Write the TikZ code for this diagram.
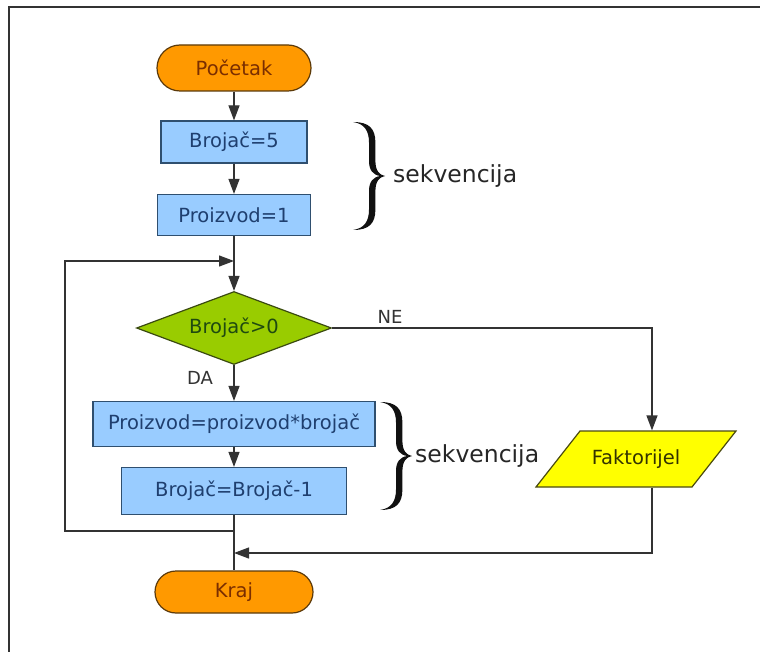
\documentclass[tikz,border=0pt]{standalone}
\usepackage{fontspec}
\setmainfont{DejaVu Sans}
\usetikzlibrary{shapes.geometric,shapes.misc,arrows.meta}
\definecolor{orfill}{HTML}{FF9900}
\definecolor{orline}{HTML}{5C3A0A}
\definecolor{ortext}{HTML}{7A2E00}
\definecolor{blfill}{HTML}{99CCFF}
\definecolor{blline}{HTML}{2F4F6F}
\definecolor{bltext}{HTML}{1F3F6F}
\definecolor{grfill}{HTML}{99CC00}
\definecolor{grline}{HTML}{3A4A10}
\definecolor{grtext}{HTML}{1F4A10}
\definecolor{yefill}{HTML}{FFFF00}
\definecolor{yeline}{HTML}{4A4A10}
\definecolor{yetext}{HTML}{333300}
\definecolor{lncol}{HTML}{333333}
\definecolor{bracecol}{HTML}{111111}
\newcommand{\mybrace}[4]{%
\begin{scope}[shift={(#1pt,-#2pt)},x=#3pt,y=-#4pt]
\fill[bracecol] (0,0) .. controls (0.5,0) and (0.7,0.06) .. (0.7,0.19)
 -- (0.7,0.36) .. controls (0.7,0.45) and (0.82,0.49) .. (1,0.5)
 .. controls (0.82,0.51) and (0.7,0.55) .. (0.7,0.64)
 -- (0.7,0.81) .. controls (0.7,0.94) and (0.5,1) .. (0,1)
 .. controls (0.35,0.985) and (0.5,0.92) .. (0.5,0.81)
 -- (0.5,0.64) .. controls (0.5,0.555) and (0.62,0.51) .. (0.85,0.5)
 .. controls (0.62,0.49) and (0.5,0.445) .. (0.5,0.36)
 -- (0.5,0.19) .. controls (0.5,0.08) and (0.35,0.015) .. (0,0) -- cycle;
\end{scope}}
\tikzset{
 base/.style={line width=1.2pt, inner sep=0pt, font=\fontsize{19.5}{22}\selectfont},
 term/.style={base, rounded rectangle, fill=orfill, draw=orline, text=ortext},
 proc/.style={base, rectangle, fill=blfill, draw=blline, text=bltext},
 dec/.style={base, diamond, shape aspect=2.67, fill=grfill, draw=grline, text=grtext},
 iotext/.style={base, rectangle, text=yetext},
 iobox/.style={line width=1.2pt, fill=yefill, draw=yeline},
 arr/.style={draw=lncol, line width=1.2pt, -{Triangle[length=15pt 0,width=11pt 0]}},
 ln/.style={draw=lncol, line width=1.2pt},
 lbl/.style={font=\fontsize{18}{20}\selectfont, text=lncol, inner sep=0pt},
 seq/.style={font=\fontsize{23.5}{26}\selectfont, text=black!85, inner sep=0pt, anchor=west},
}
\begin{document}
\begin{tikzpicture}[x=1pt,y=-1pt]
\useasboundingbox (0,0) rectangle (760,652);
\fill[white] (0,0) rectangle (760,652);
\draw[line width=2pt, lncol] (9,652) -- (9,7) -- (760,7);

\node[term, minimum width=154pt, minimum height=46pt] (start) at (234,68) {Početak};
\node[proc, minimum width=146pt, minimum height=42pt] (b5) at (234,142) {Brojač=5};
\node[proc, minimum width=153pt, minimum height=41pt] (p1) at (234,215) {Proizvod=1};
\node[dec, minimum width=195pt, minimum height=73pt] (dia) at (234,328) {Brojač>0};
\node[proc, minimum width=282pt, minimum height=45pt] (pp) at (234,424) {Proizvod=proizvod*brojač};
\node[proc, minimum width=225pt, minimum height=47pt] (bb) at (234,491) {Brojač=Brojač-1};
\filldraw[iobox] (536,487) -- (580,431) -- (736,431) -- (692,487) -- cycle;
\node[iotext, minimum width=156pt, minimum height=56pt] (fak) at (636,459) {Faktorijel};
\node[term, minimum width=158pt, minimum height=42pt] (kraj) at (234,592) {Kraj};

\node[lbl] (nel) at (390,317) {NE};
\node[lbl] (dal) at (200,378) {DA};

\coordinate (jt) at (234,261);
\coordinate (lt) at (65,261);
\coordinate (lb) at (65,531);
\coordinate (jb) at (234,531);
\coordinate (ne) at (652,328);
\coordinate (fb) at (652,553);
\coordinate (jk) at (234,553);

\draw[arr] (start.south) -- (b5.north);
\draw[arr] (b5.south) -- (p1.north);
\draw[arr] (p1.south) -- (dia.north);
\draw[arr] (dia.south) -- (pp.north);
\draw[arr] (pp.south) -- (bb.north);
\draw[ln] (bb.south) -- (kraj.north);
\draw[arr] (jb) -- (lb) -- (lt) -- (jt);
\draw[arr] (dia.east) -- (ne) -- (ne |- fak.north);
\draw[arr] (ne |- fak.south) -- (fb) -- (jk);

\mybrace{353}{122}{32}{108}
\node[seq] (s1) at (393,176) {sekvencija};
\mybrace{380}{402}{32}{108}
\node[seq] (s2) at (415,456) {sekvencija};
\end{tikzpicture}
\end{document}
